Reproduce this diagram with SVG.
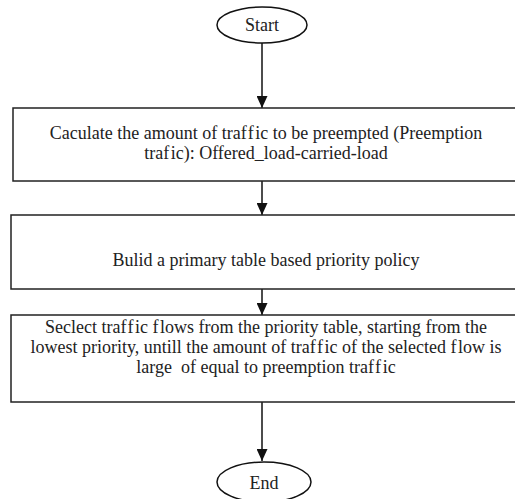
<svg xmlns="http://www.w3.org/2000/svg" width="515" height="499" viewBox="0 0 515 499">
  <defs>
    <marker id="arrow" markerWidth="12" markerHeight="11" refX="12" refY="5.5" orient="auto" markerUnits="userSpaceOnUse">
      <path d="M0,0 L12,5.5 L0,11 Z" fill="#111"/>
    </marker>
    <style>
      .box { fill: #fff; stroke: #222; stroke-width: 1.5; }
      .term { fill: #fff; stroke: #111; stroke-width: 1.5; }
      .lbl { font-family: 'Liberation Serif', 'Times New Roman', serif; font-size: 18px; fill: #222; text-anchor: middle; white-space: pre; }
      .wide { letter-spacing: 1.5px; }
      .conn { stroke: #111; stroke-width: 1.5; fill: none; marker-end: url(#arrow); }
    </style>
  </defs>

  <g id="connectors">
    <line class="conn" x1="262" y1="43" x2="262" y2="108"/>
    <line class="conn" x1="262" y1="181" x2="262" y2="215"/>
    <line class="conn" x1="262" y1="289" x2="262" y2="315"/>
    <line class="conn" x1="262" y1="402" x2="262" y2="461"/>
  </g>

  <g id="start">
    <ellipse class="term" cx="262" cy="25" rx="45" ry="18"/>
    <text class="lbl" font-family="Liberation Serif, serif" x="262" y="31">Start</text>
  </g>

  <g id="calculate">
    <rect class="box" x="13" y="108" width="510" height="73"/>
    <text class="lbl" font-family="Liberation Serif, serif" x="266" y="139">Caculate the amount of tra<tspan class="wide">ff</tspan>ic to be preempted (Preemption</text>
    <text class="lbl" font-family="Liberation Serif, serif" x="266" y="159">tra<tspan class="wide">f</tspan>ic): Offered_load-carried-load</text>
  </g>

  <g id="build-table">
    <rect class="box" x="11" y="215" width="512" height="74"/>
    <text class="lbl" font-family="Liberation Serif, serif" x="266" y="266">Bulid a primary table based priority policy</text>
  </g>

  <g id="select-flows">
    <rect class="box" x="11" y="315" width="512" height="87"/>
    <text class="lbl" font-family="Liberation Serif, serif" x="266" y="333">Seclect tra<tspan class="wide">ff</tspan>ic <tspan class="wide">f</tspan>lows from the priority table, starting from the</text>
    <text class="lbl" font-family="Liberation Serif, serif" x="266" y="353">lowest priority, untill the amount of tra<tspan class="wide">ff</tspan>ic of the selected <tspan class="wide">f</tspan>low is</text>
    <text class="lbl" font-family="Liberation Serif, serif" x="266" y="373">large  of equal to preemption tra<tspan class="wide">ff</tspan>ic</text>
  </g>

  <g id="end">
    <ellipse class="term" cx="264" cy="482" rx="47" ry="20"/>
    <text class="lbl" font-family="Liberation Serif, serif" x="264" y="489">End</text>
  </g>
</svg>
